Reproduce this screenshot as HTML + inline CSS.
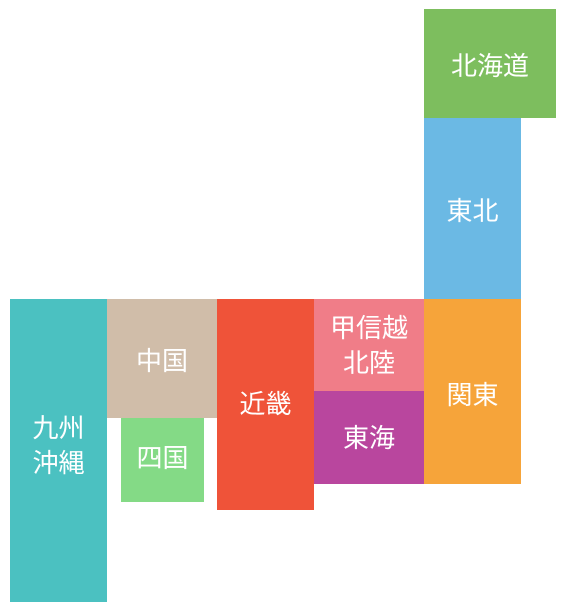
<!DOCTYPE html>
<html><head><meta charset="utf-8"><style>
html,body{margin:0;padding:0;background:#fff;}
#map{position:relative;width:564px;height:614px;overflow:hidden;font-family:"Liberation Sans","Noto Sans CJK JP",sans-serif;}
.r{position:absolute;display:flex;align-items:center;justify-content:center;text-align:center;color:#fff;font-size:26px;line-height:35px;box-sizing:border-box;padding-top:2px;}
</style></head><body>
<div id="map">
<div class="r" style="left:424px;top:9px;width:132px;height:109px;background:#7dbe5e;padding-top:6px;">北海道</div>
<div class="r" style="left:424px;top:118px;width:97px;height:181px;background:#6bb9e4;padding-top:6px;">東北</div>
<div class="r" style="left:424px;top:299px;width:97px;height:185px;background:#f6a43a;padding-top:7px;">関東</div>
<div class="r" style="left:314px;top:299px;width:110px;height:92px;background:#f07d88;">甲信越<br>北陸</div>
<div class="r" style="left:314px;top:391px;width:110px;height:93px;background:#b9469e;">東海</div>
<div class="r" style="left:217px;top:299px;width:97px;height:211px;background:#ef5339;padding-top:0;">近畿</div>
<div class="r" style="left:107px;top:299px;width:110px;height:119px;background:#d0bda9;padding-top:6px;">中国</div>
<div class="r" style="left:121px;top:418px;width:83px;height:84px;background:#84da86;padding-top:0;padding-bottom:4px;">四国</div>
<div class="r" style="left:10px;top:299px;width:97px;height:303px;background:#4bc1c1;padding-top:0;padding-bottom:10px;">九州<br>沖縄</div>
</div>
</body></html>
